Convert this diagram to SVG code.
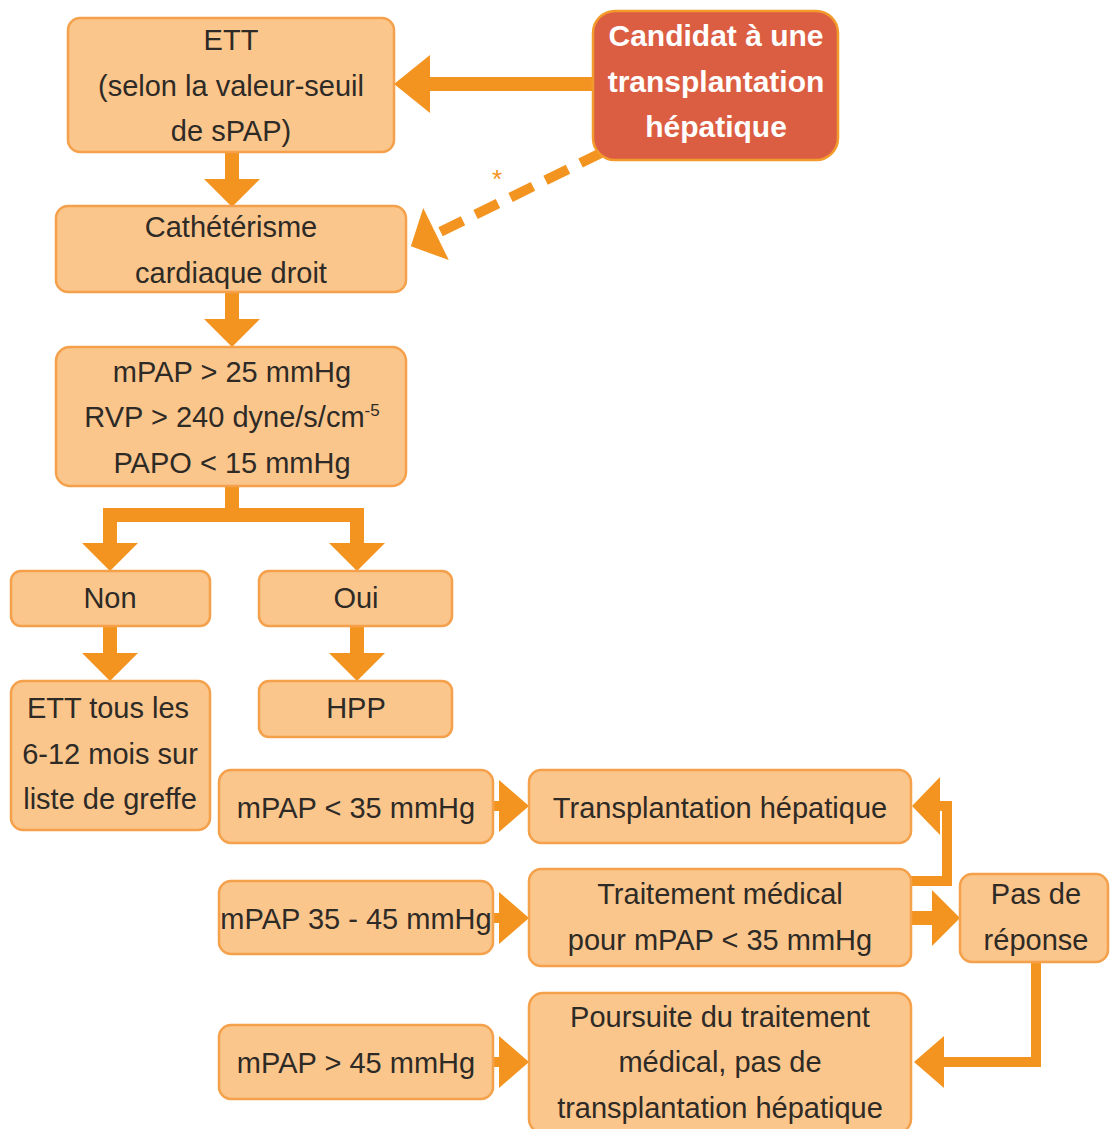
<svg xmlns="http://www.w3.org/2000/svg" width="1110" height="1129" viewBox="0 0 1110 1129">
<style>
.box{fill:#FBC68C;stroke:#F5A04A;stroke-width:2.5}
.red{fill:#DC5E42;stroke:#F39A2C;stroke-width:2.5}
.t{font-family:"Liberation Sans",Arial,sans-serif;font-size:29px;fill:#2E2A26;text-anchor:middle}
.w{font-family:"Liberation Sans",Arial,sans-serif;font-size:30px;font-weight:bold;fill:#FFFFFF;text-anchor:middle}
.c{fill:none;stroke:#F39420;stroke-width:14}
.c2{fill:none;stroke:#F39420;stroke-width:10}
.ah{fill:#F39420;stroke:none}
</style>
<defs>
<marker id="a" markerUnits="userSpaceOnUse" markerWidth="28" markerHeight="56" refX="0" refY="28" orient="auto" overflow="visible"><path class="ah" d="M0,0 L28,28 L0,56 Z"/></marker>
<marker id="aL" markerUnits="userSpaceOnUse" markerWidth="36" markerHeight="58" refX="0" refY="29" orient="auto" overflow="visible"><path class="ah" d="M0,0 L36,29 L0,58 Z"/></marker>
<marker id="aR" markerUnits="userSpaceOnUse" markerWidth="30" markerHeight="52" refX="0" refY="26" orient="auto" overflow="visible"><path class="ah" d="M0,0 L30,26 L0,52 Z"/></marker>
<marker id="aW" markerUnits="userSpaceOnUse" markerWidth="28" markerHeight="58" refX="0" refY="29" orient="auto" overflow="visible"><path class="ah" d="M0,0 L28,29 L0,58 Z"/></marker>
</defs>
<rect width="1110" height="1129" fill="#FFFFFF"/>
<g id="connectors">
<path class="c" d="M593,84 H430" marker-end="url(#aL)"/>
<path class="c2" d="M603,152 L436,234" stroke-dasharray="25 14" stroke-width="10" marker-end="url(#aW)"/>
<text x="497" y="188" font-family="Liberation Sans,Arial,sans-serif" font-size="26" fill="#F39420" text-anchor="middle">*</text>
<path class="c" d="M232,152 V179" marker-end="url(#a)"/>
<path class="c" d="M232,292 V319" marker-end="url(#a)"/>
<path class="c" d="M232,486 V515"/>
<path class="c" d="M110,543 V515 H357 V543" stroke-width="12" stroke-linejoin="miter"/>
<path class="c" d="M110,541 V543" stroke-width="12" marker-end="url(#a)"/>
<path class="c" d="M357,541 V543" stroke-width="12" marker-end="url(#a)"/>
<path class="c" d="M110,626 V653" stroke-width="12" marker-end="url(#a)"/>
<path class="c" d="M357,626 V653" stroke-width="12" marker-end="url(#a)"/>
<path class="c2" d="M493,806 H499" marker-end="url(#aR)"/>
<path class="c2" d="M493,918 H499" marker-end="url(#aR)"/>
<path class="c2" d="M493,1062 H499" marker-end="url(#aR)"/>
<path class="c" d="M911,918 H932" marker-end="url(#a)"/>
<path class="c2" d="M911,881 H947 V806 H940" marker-end="url(#aW)"/>
<path class="c2" d="M1036,962 V1062 H944" marker-end="url(#aR)"/>
</g>
<g id="n-candidat"><rect class="red" x="593" y="11" width="245" height="149" rx="22"/>
<text class="w" x="716" y="46">Candidat à une</text><text class="w" x="716" y="92">transplantation</text><text class="w" x="716" y="137">hépatique</text></g>
<g id="n-ett"><rect class="box" x="68" y="18" width="326" height="134" rx="12"/>
<text class="t" x="231" y="50">ETT</text><text class="t" x="231" y="96">(selon la valeur-seuil</text><text class="t" x="231" y="141">de sPAP)</text></g>
<g id="n-cath"><rect class="box" x="56" y="206" width="350" height="86" rx="12"/>
<text class="t" x="231" y="237">Cathétérisme</text><text class="t" x="231" y="283">cardiaque droit</text></g>
<g id="n-criteria"><rect class="box" x="56" y="347" width="350" height="139" rx="14"/>
<text class="t" x="232" y="382">mPAP &gt; 25 mmHg</text><text class="t" x="232" y="427">RVP &gt; 240 dyne/s/cm<tspan font-size="17" dy="-11">-5</tspan></text><text class="t" x="232" y="473">PAPO &lt; 15 mmHg</text></g>
<g id="n-non"><rect class="box" x="11" y="571" width="199" height="55" rx="10"/><text class="t" x="110" y="608">Non</text></g>
<g id="n-oui"><rect class="box" x="259" y="571" width="193" height="55" rx="10"/><text class="t" x="356" y="608">Oui</text></g>
<g id="n-ett-suivi"><rect class="box" x="11" y="681" width="199" height="149" rx="12"/>
<text class="t" x="108" y="718">ETT tous les</text><text class="t" x="110" y="764">6-12 mois sur</text><text class="t" x="110" y="809">liste de greffe</text></g>
<g id="n-hpp"><rect class="box" x="259" y="681" width="193" height="56" rx="10"/><text class="t" x="356" y="718">HPP</text></g>
<g id="n-lt35"><rect class="box" x="219" y="770" width="274" height="73" rx="12"/><text class="t" x="356" y="818">mPAP &lt; 35 mmHg</text></g>
<g id="n-transplant"><rect class="box" x="529" y="770" width="382" height="73" rx="12"/><text class="t" x="720" y="818">Transplantation hépatique</text></g>
<g id="n-35-45"><rect class="box" x="219" y="881" width="274" height="73" rx="12"/><text class="t" x="356" y="929">mPAP 35 - 45 mmHg</text></g>
<g id="n-traitement"><rect class="box" x="529" y="869" width="382" height="97" rx="12"/>
<text class="t" x="720" y="904">Traitement médical</text><text class="t" x="720" y="950">pour mPAP &lt; 35 mmHg</text></g>
<g id="n-pas"><rect class="box" x="960" y="874" width="148" height="88" rx="12"/>
<text class="t" x="1036" y="904">Pas de</text><text class="t" x="1036" y="950">réponse</text></g>
<g id="n-gt45"><rect class="box" x="219" y="1025" width="274" height="74" rx="12"/><text class="t" x="356" y="1073">mPAP &gt; 45 mmHg</text></g>
<g id="n-poursuite"><rect class="box" x="529" y="993" width="382" height="140" rx="14"/>
<text class="t" x="720" y="1027">Poursuite du traitement</text><text class="t" x="720" y="1072">médical, pas de</text><text class="t" x="720" y="1118">transplantation hépatique</text></g>
</svg>
